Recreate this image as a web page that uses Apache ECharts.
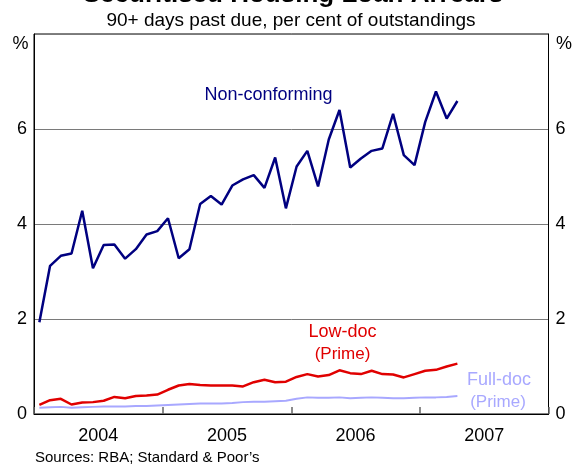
<!DOCTYPE html>
<html>
<head>
<meta charset="utf-8">
<script src="https://cdn.jsdelivr.net/npm/echarts@6/dist/echarts.min.js"></script>
<style>html,body{margin:0;padding:0;background:#fff}#c{width:572px;height:466px}</style>
</head>
<body>
<div id="c"></div>
<script>
const years = ['2004', '2005', '2006', '2007'];
const yTicks = [0, 2, 4, 6, 8];
const nonConforming = [1.93,3.12,3.33,3.38,4.28,3.07,3.56,3.57,3.27,3.47,3.78,3.85,4.12,3.28,3.47,4.42,4.59,4.41,4.81,4.94,5.03,4.76,5.40,4.33,5.21,5.54,4.79,5.78,6.40,5.19,5.38,5.54,5.59,6.32,5.45,5.24,6.15,6.79,6.22,6.59];
const lowDoc = [0.19,0.29,0.32,0.20,0.24,0.25,0.28,0.36,0.33,0.38,0.39,0.41,0.51,0.60,0.63,0.61,0.60,0.60,0.60,0.58,0.67,0.72,0.67,0.68,0.78,0.84,0.79,0.82,0.92,0.86,0.84,0.91,0.84,0.83,0.77,0.84,0.91,0.93,1.00,1.06];
const fullDoc = [0.13,0.14,0.15,0.13,0.14,0.15,0.16,0.16,0.16,0.17,0.17,0.18,0.19,0.20,0.21,0.22,0.22,0.22,0.23,0.25,0.26,0.26,0.27,0.28,0.32,0.35,0.34,0.34,0.35,0.33,0.34,0.35,0.34,0.33,0.33,0.34,0.35,0.35,0.36,0.38];

const FONT = '"Liberation Sans", Arial, sans-serif';
const toPairs = arr => arr.map((v, i) => [i + 0.5, v]); // monthly points, mid-month from Jan 2004

const chart = echarts.init(document.getElementById('c'), null, {renderer: 'canvas'});
const yAxisCommon = {
  type: 'value', min: 0, max: 8, interval: 2,
  axisLine: {show: true, lineStyle: {color: '#000', width: 1}},
  axisTick: {show: false},
  axisLabel: {color: '#000', fontSize: 18, fontFamily: FONT, margin: 7,
    formatter: v => (v === 8 ? '' : String(v))}
};
chart.setOption({
  animation: false,
  grid: {left: 34, right: 23.5, top: 34, bottom: 52, show: true, borderColor: '#000', borderWidth: 1, containLabel: false},
  xAxis: [
    {type: 'value', min: 0, max: 48, interval: 12, position: 'bottom',
     axisLine: {show: true, onZero: false, lineStyle: {color: '#000', width: 1}},
     axisTick: {show: true, inside: true, length: 7, lineStyle: {color: '#666', width: 1.5}},
     axisLabel: {show: false}, splitLine: {show: false}},
    {type: 'category', data: years, position: 'bottom', boundaryGap: true,
     axisLine: {show: false}, axisTick: {show: false}, splitLine: {show: false},
     axisLabel: {color: '#000', fontSize: 18, fontFamily: FONT, margin: 13}}
  ],
  yAxis: [
    Object.assign({}, yAxisCommon, {position: 'left',
      splitLine: {show: true, lineStyle: {color: '#7a7a7a', width: 1}}}),
    Object.assign({}, yAxisCommon, {position: 'right', splitLine: {show: false},
      axisLabel: Object.assign({}, yAxisCommon.axisLabel, {margin: 7})})
  ],
  series: [
    {type: 'line', name: 'Full-doc (Prime)', data: toPairs(fullDoc), xAxisIndex: 0, yAxisIndex: 0,
     showSymbol: false, lineStyle: {color: '#a8a8ff', width: 2}, z: 2},
    {type: 'line', name: 'Low-doc (Prime)', data: toPairs(lowDoc), xAxisIndex: 0, yAxisIndex: 0,
     showSymbol: false, lineStyle: {color: '#e00000', width: 2.5}, z: 3},
    {type: 'line', name: 'Non-conforming', data: toPairs(nonConforming), xAxisIndex: 0, yAxisIndex: 0,
     showSymbol: false, lineStyle: {color: '#000080', width: 2.5}, z: 4}
  ],
  graphic: [
    {type: 'text', x: 293, y: 8, style: {text: 'Securitised Housing Loan Arrears', font: 'bold 26px ' + FONT, fill: '#000', align: 'center', verticalAlign: 'bottom'}},
    {type: 'text', x: 291, y: 21, style: {text: '90+ days past due, per cent of outstandings', font: '19px ' + FONT, fill: '#000', align: 'center', verticalAlign: 'middle'}},
    {type: 'text', x: 20.5, y: 44, style: {text: '%', font: '18px ' + FONT, fill: '#000', align: 'center', verticalAlign: 'middle'}},
    {type: 'text', x: 564, y: 44, style: {text: '%', font: '18px ' + FONT, fill: '#000', align: 'center', verticalAlign: 'middle'}},
    {type: 'text', x: 268.5, y: 95, style: {text: 'Non-conforming', font: '18px ' + FONT, fill: '#000080', align: 'center', verticalAlign: 'middle'}},
    {type: 'text', x: 342.5, y: 332, style: {text: 'Low-doc', font: '18px ' + FONT, fill: '#e00000', align: 'center', verticalAlign: 'middle'}},
    {type: 'text', x: 342.5, y: 354, style: {text: '(Prime)', font: '17px ' + FONT, fill: '#e00000', align: 'center', verticalAlign: 'middle'}},
    {type: 'text', x: 499, y: 380, style: {text: 'Full-doc', font: '18px ' + FONT, fill: '#a8a8ff', align: 'center', verticalAlign: 'middle'}},
    {type: 'text', x: 498, y: 402, style: {text: '(Prime)', font: '17px ' + FONT, fill: '#a8a8ff', align: 'center', verticalAlign: 'middle'}},
    {type: 'text', x: 35, y: 458, style: {text: 'Sources: RBA; Standard & Poor\u2019s', font: '15px ' + FONT, fill: '#000', align: 'left', verticalAlign: 'middle'}}
  ]
});
</script>
</body>
</html>
